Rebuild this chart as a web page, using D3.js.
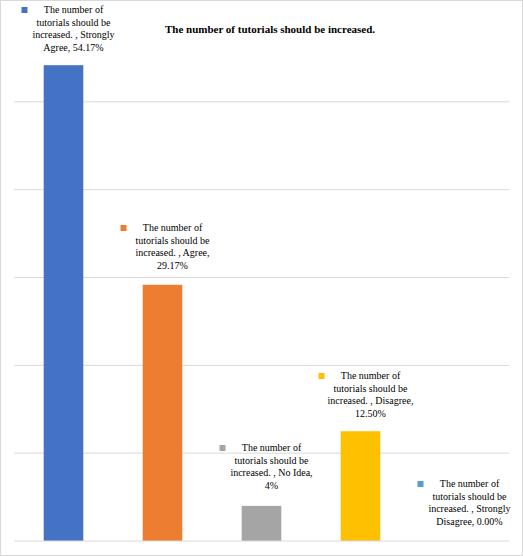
<!DOCTYPE html>
<html><head><meta charset="utf-8">
<script src="https://cdn.jsdelivr.net/npm/d3@7"></script>
<style>body{margin:0;background:#fff}text{font-family:"Liberation Serif","Times New Roman",serif}</style>
</head><body><svg id="c" width="523" height="556"></svg>
<script>
var categories = ['Strongly Agree', 'Agree', 'No Idea', 'Disagree', 'Strongly Disagree'];
var values = [54.17, 29.17, 4, 12.5, 0];
var valueLabels = ['54.17%', '29.17%', '4%', '12.50%', '0.00%'];
var colors = ['#4472c4', '#ed7d31', '#a5a5a5', '#ffc000', '#5b9bd5'];
var labelLines = [
  ['The number of', 'tutorials should be', 'increased. , Strongly', 'Agree, 54.17%'],
  ['The number of', 'tutorials should be', 'increased. , Agree,', '29.17%'],
  ['The number of', 'tutorials should be', 'increased. , No Idea,', '4%'],
  ['The number of', 'tutorials should be', 'increased. , Disagree,', '12.50%'],
  ['The number of', 'tutorials should be', 'increased. , Strongly', 'Disagree, 0.00%']
];
var labelTops = [12, 230, 450, 378, 486];

var svg = d3.select('#c');
svg.append('rect').attr('x', 0.5).attr('y', 0.5).attr('width', 522).attr('height', 555)
  .attr('fill', '#fff').attr('stroke', '#d9d9d9');

var x = d3.scaleBand().domain(categories).range([14, 509]).paddingInner(0.6).paddingOuter(0.3);
var y = d3.scaleLinear().domain([0, 60]).range([541, 14]);

svg.append('g').selectAll('line').data(d3.range(10, 60, 10)).join('line')
  .attr('x1', 14).attr('x2', 509).attr('y1', d => y(d)).attr('y2', d => y(d))
  .attr('stroke', '#d9d9d9');

svg.append('g').selectAll('rect').data(values).join('rect')
  .attr('x', (d, i) => x(categories[i])).attr('width', x.bandwidth())
  .attr('y', d => y(d)).attr('height', d => y(0) - y(d))
  .attr('fill', (d, i) => colors[i]);

svg.append('line').attr('x1', 14).attr('x2', 509).attr('y1', y(0)).attr('y2', y(0)).attr('stroke', '#d9d9d9');

svg.append('text').attr('x', 270).attr('y', 33).attr('text-anchor', 'middle')
  .attr('font-size', 11).attr('font-weight', 'bold')
  .text('The number  of tutorials  should  be  increased.');

var lg = svg.append('g').selectAll('g').data(labelLines).join('g');
lg.each(function(lines, i) {
  var g = d3.select(this), cx = x(categories[i]) + x.bandwidth() / 2 + 10, top = labelTops[i];
  g.append('rect').attr('x', cx - 52).attr('y', top - 5).attr('width', 6).attr('height', 6).attr('fill', colors[i]);
  lines.forEach(function(l, j) {
    g.append('text').attr('x', cx).attr('y', top + 1 + j * 12.5).attr('text-anchor', 'middle')
      .attr('font-size', 10).attr('fill', '#000').text(l);
  });
});
</script></body></html>
